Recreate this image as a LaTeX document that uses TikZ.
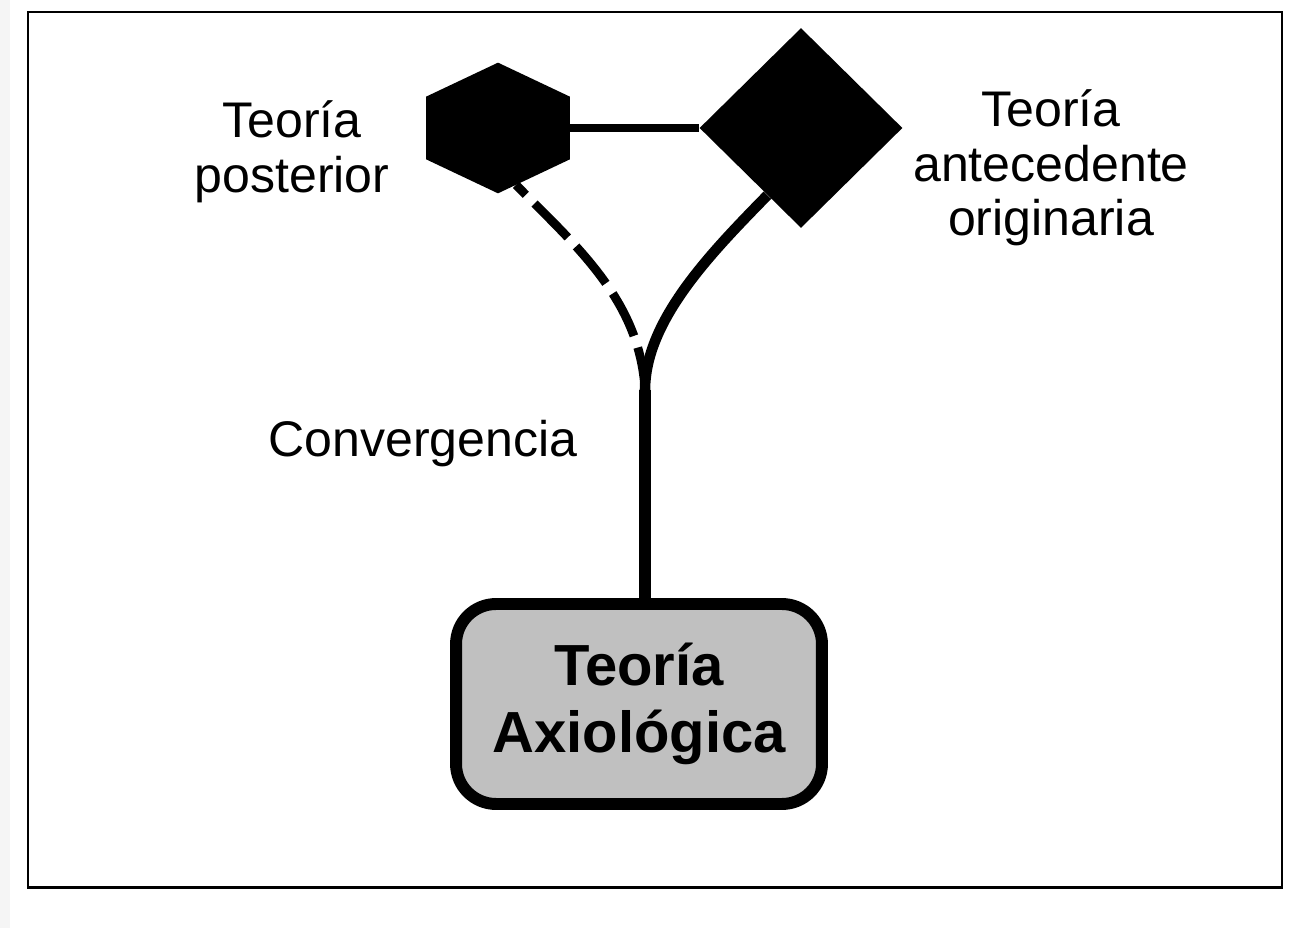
\documentclass[tikz,border=0pt]{standalone}
\usepackage{fontspec}
\setmainfont{Liberation Sans}
\usetikzlibrary{calc,shapes.geometric}
\definecolor{boxgray}{RGB}{192,192,192}
\tikzset{
	lbltext/.style={font=\fontsize{28.5}{31}\selectfont, align=center, inner sep=0pt},
	thickcurve/.style={line width=6pt},
}

\begin{document}
\begin{tikzpicture}[x=0.02cm, y=-0.02cm]
		%%%%% START %%%%%
		\useasboundingbox (0,0) rectangle (1309,928);
		\fill[black!4] (0,0) rectangle (10,928);
		
		\draw[line width=0.3mm] (28,12) rectangle (1282,888);
		\draw[line width=0.6mm] (28,888) -- (1282,888);
		
		\node[diamond, fill=black, minimum width=4.06cm, minimum height=4cm, inner sep=0pt] (ante) at (801,128) {};
		\node[minimum width=2.86cm, minimum height=2.6cm, inner sep=0pt] (post) at (498,128) {};
		\coordinate (postbr) at ($(post.north east)!0.74!(post.south east)$);
		\fill (post.north) -- ($(post.north west)!0.26!(post.south west)$) -- ($(post.north west)!0.74!(post.south west)$) -- (post.south) -- (postbr) -- ($(post.north east)!0.26!(post.south east)$) -- cycle;
		
		\draw[line width=4.5pt] (post.east) -- (ante.west);
		
		\node[draw, line width=6.8pt, fill=boxgray, rounded corners=0.8cm, minimum width=7.32cm, minimum height=4cm, font=\bfseries\fontsize{33}{38.5}\selectfont, align=center] (axio) at (639,704) {Teoría\\Axiológica};
		
		\coordinate (conv) at (645,390);
		\draw[line width=6.5pt] (conv) -- (conv |- axio.north);
		\draw[thickcurve] ($(ante.west)!0.67!(ante.south)$) .. controls (712,252) and (645,320) .. (conv);
		\draw[line width=5pt, dash pattern=on 27pt off 7pt, dash phase=19pt] ($(post.south)!0.25!(postbr)$) .. controls (575,245) and (640,300) .. (conv);
		
		\node[lbltext] (postlbl) at (292,152) {Teoría\\posterior};
		\node[lbltext] (antelbl) at (1051,168) {Teoría\\antecedente\\originaria};
		\node[lbltext] (convlbl) at (423,444) {Convergencia};
		%%%%% END %%%%%
\end{tikzpicture}
\end{document}
